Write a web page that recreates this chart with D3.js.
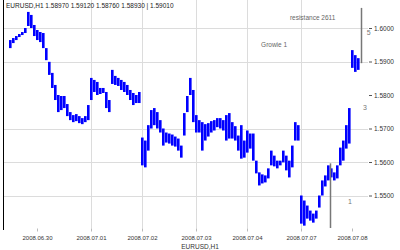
<!DOCTYPE html>
<html>
<head>
    <meta charset="utf-8">
    <title>Price chart</title>
    <style>
        body { margin: 0; background: #fff; }
        text { font-family: "Liberation Sans", sans-serif; }
    </style>
</head>
<body>
<div id='plot'></div>
<script src="https://cdn.jsdelivr.net/npm/d3@7"></script>
<script>

    // bar highs / lows, one per bar
    let highs = [1.5964, 1.5970, 1.5976, 1.5982, 1.5988, 1.6000, 1.6048, 1.6039, 1.6009, 1.5994,
                 1.5988, 1.5985, 1.5940, 1.5899, 1.5866, 1.5830, 1.5800, 1.5797, 1.5797, 1.5773,
                 1.5749, 1.5740, 1.5743, 1.5737, 1.5731, 1.5737, 1.5770, 1.5851, 1.5845, 1.5839,
                 1.5821, 1.5821, 1.5809, 1.5785, 1.5875, 1.5857, 1.5851, 1.5845, 1.5839, 1.5830,
                 1.5815, 1.5806, 1.5800, 1.5809, 1.5673, 1.5664, 1.5710, 1.5755, 1.5761, 1.5749,
                 1.5725, 1.5700, 1.5688, 1.5685, 1.5682, 1.5676, 1.5670, 1.5649, 1.5746, 1.5797,
                 1.5851, 1.5815, 1.5740, 1.5725, 1.5719, 1.5713, 1.5716, 1.5722, 1.5725, 1.5731,
                 1.5731, 1.5725, 1.5740, 1.5746, 1.5719, 1.5707, 1.5679, 1.5710, 1.5664, 1.5694,
                 1.5685, 1.5685, 1.5604, 1.5569, 1.5563, 1.5560, 1.5581, 1.5634, 1.5619, 1.5604,
                 1.5604, 1.5634, 1.5619, 1.5604, 1.5649, 1.5719, 1.5710, 1.5500, 1.5485, 1.5470,
                 1.5455, 1.5446, 1.5455, 1.5500, 1.5545, 1.5560, 1.5590, 1.5581, 1.5569, 1.5590,
                 1.5643, 1.5664, 1.5710, 1.5761, 1.5934, 1.5919, 1.5910];
    let lows  = [1.5940, 1.5955, 1.5964, 1.5973, 1.5979, 1.5985, 1.6006, 1.6000, 1.5976, 1.5964,
                 1.5958, 1.5940, 1.5904, 1.5860, 1.5821, 1.5785, 1.5749, 1.5755, 1.5761, 1.5737,
                 1.5725, 1.5719, 1.5722, 1.5716, 1.5713, 1.5719, 1.5725, 1.5785, 1.5809, 1.5800,
                 1.5803, 1.5806, 1.5761, 1.5749, 1.5833, 1.5830, 1.5827, 1.5815, 1.5809, 1.5800,
                 1.5785, 1.5770, 1.5776, 1.5776, 1.5590, 1.5584, 1.5634, 1.5700, 1.5710, 1.5700,
                 1.5688, 1.5649, 1.5658, 1.5655, 1.5649, 1.5646, 1.5634, 1.5613, 1.5679, 1.5749,
                 1.5800, 1.5719, 1.5688, 1.5688, 1.5634, 1.5664, 1.5676, 1.5688, 1.5694, 1.5704,
                 1.5700, 1.5694, 1.5664, 1.5670, 1.5670, 1.5664, 1.5634, 1.5610, 1.5613, 1.5628,
                 1.5640, 1.5604, 1.5566, 1.5530, 1.5536, 1.5539, 1.5551, 1.5590, 1.5587, 1.5581,
                 1.5590, 1.5599, 1.5575, 1.5554, 1.5584, 1.5664, 1.5664, 1.5416, 1.5410, 1.5431,
                 1.5425, 1.5419, 1.5431, 1.5464, 1.5500, 1.5527, 1.5545, 1.5554, 1.5545, 1.5551,
                 1.5590, 1.5604, 1.5640, 1.5655, 1.5881, 1.5869, 1.5875];

    let priceTicks = [1.6000, 1.5900, 1.5800, 1.5700, 1.5600, 1.5500];
    let gridPrices = [1.6000, 1.5900, 1.5700, 1.5600, 1.5500];
    let dateTicks = [9, 27, 44, 62, 79, 97, 114];
    let dateLabels = ['2008.06.30', '2008.07.01', '2008.07.02', '2008.07.03', '2008.07.04', '2008.07.07', '2008.07.08'];
    let dateGrid = [27, 44, 62, 79, 97];

    let title = 'EURUSD,H1  1.58970 1.59120 1.58760 1.58930 | 1.59010';
    let footer = 'EURUSD,H1';

    // chart objects: vertical lines and number labels
    let vlines = [{idx: 117, from: 1.6060, to: 1.5895}, {idx: 106.7, from: 1.5596, to: 1.5403}];
    let marks = [{idx: 118.9, price: 1.5979, text: '5'}, {idx: 117.7, price: 1.5755, text: '3'}, {idx: 112.7, price: 1.5476, text: '1'}];
    let notes = [{idx: 93.3, price: 1.6024, text: 'resistance 2611'}, {idx: 83.7, price: 1.5942, text: 'Growie 1'}];

    let svgWidth = 400;
    let svgHeight = 250;
    let left = 3, right = 368, bottom = 228.5;

    let svg = d3.select('#plot')
      .append('svg')
        .attr('width', svgWidth)
        .attr('height', svgHeight);

    let x = d3.scaleLinear().domain([0, 1]).range([10, 13]);
    let y = d3.scaleLinear().domain([1.55, 1.60]).range([195.5, 28]);

    // grid
    svg.append('g').selectAll('line')
      .data(gridPrices)
      .enter().append('line')
        .attr('x1', left).attr('x2', right)
        .attr('y1', d => Math.round(y(d)) + 0.5).attr('y2', d => Math.round(y(d)) + 0.5)
        .attr('stroke', '#dcdcdc');

    svg.append('g').selectAll('line')
      .data(dateGrid)
      .enter().append('line')
        .attr('x1', d => Math.round(x(d)) + 0.5).attr('x2', d => Math.round(x(d)) + 0.5)
        .attr('y1', 0).attr('y2', bottom)
        .attr('stroke', '#dcdcdc');

    // bars
    svg.append('g').selectAll('rect')
      .data(highs)
      .enter().append('rect')
        .attr('x', (d, i) => Math.round(x(i)) - 1)
        .attr('y', d => y(d))
        .attr('width', 2.6)
        .attr('height', (d, i) => Math.max(2, y(lows[i]) - y(d)))
        .attr('fill', '#0000ff');

    // left edge
    svg.append('line')
      .attr('x1', 3.5).attr('x2', 3.5).attr('y1', 0).attr('y2', 230)
      .attr('stroke', '#000');

    // price axis on the right
    let yAxis = d3.axisRight(y)
      .tickValues(priceTicks)
      .tickSize(3)
      .tickFormat(d3.format('.4f'));
    let ya = svg.append('g')
      .attr('transform', 'translate(' + (right + 1) + ',0)')
      .call(yAxis);
    ya.select('.domain').remove();
    ya.selectAll('line').attr('stroke', '#555');
    ya.selectAll('text').attr('font-size', 6.5).attr('fill', '#333').attr('x', 5);

    // date axis
    let xAxis = d3.axisBottom(x)
      .tickValues(dateTicks)
      .tickSize(3)
      .tickFormat((d, i) => dateLabels[i]);
    let xa = svg.append('g')
      .attr('transform', 'translate(0,' + bottom + ')')
      .call(xAxis);
    xa.select('.domain').remove();
    xa.selectAll('line').attr('stroke', '#bbb');
    xa.selectAll('text').attr('font-size', 6).attr('fill', '#333').attr('y', 7);

    svg.append('text')
      .attr('x', 200).attr('y', 249)
      .attr('text-anchor', 'middle')
      .attr('font-size', 6.5).attr('fill', '#333')
      .text(footer);

    svg.append('text')
      .attr('x', 6).attr('y', 8)
      .attr('font-size', 6.5).attr('fill', '#222')
      .text(title);

    // objects
    svg.append('g').selectAll('line')
      .data(vlines)
      .enter().append('line')
        .attr('x1', d => Math.round(x(d.idx)) + 0.5).attr('x2', d => Math.round(x(d.idx)) + 0.5)
        .attr('y1', d => y(d.from)).attr('y2', d => y(d.to))
        .attr('stroke', '#777').attr('stroke-width', 1.5);

    svg.append('g').selectAll('text')
      .data(marks)
      .enter().append('text')
        .attr('x', d => x(d.idx)).attr('y', d => y(d.price))
        .attr('font-size', 7).attr('fill', '#777')
        .text(d => d.text);

    svg.append('g').selectAll('text')
      .data(notes)
      .enter().append('text')
        .attr('x', d => x(d.idx)).attr('y', d => y(d.price))
        .attr('font-size', 6.5).attr('fill', '#666')
        .text(d => d.text);

</script>
</body>
</html>
